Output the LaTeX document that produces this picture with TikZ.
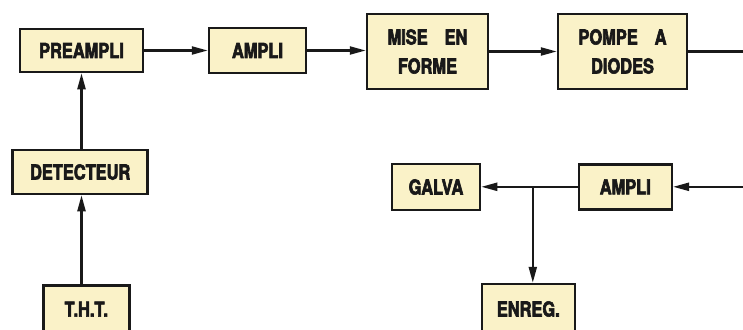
\documentclass[tikz,border=0pt]{standalone}
\usepackage{fontspec}
\newfontfamily\bxfont{texgyreheros-bold.otf}[FakeStretch=0.80, FakeBold=3]
\usetikzlibrary{arrows.meta}
\definecolor{boxfill}{RGB}{250,242,200}
\definecolor{ink}{RGB}{25,25,25}
\begin{document}
\begin{tikzpicture}[x=1pt,y=-1pt,
  blk/.style={draw=ink, line width=2.5pt, fill=boxfill, inner sep=0pt,
    font=\bxfont\fontsize{20.5}{29}\selectfont, text=ink, align=center},
  arr/.style={draw=ink, line width=2.2pt, -{Triangle[length=16pt,width=8pt]}},
  ln/.style={draw=ink, line width=2.2pt}]
\useasboundingbox[fill=white] (0,0) rectangle (743,329);
\node[blk, minimum width=123pt, minimum height=43pt] (pre) at (81.5,50.5) {PREAMPLI};
\node[blk, minimum width=97pt, minimum height=45pt] (amp1) at (257.5,50.5) {AMPLI};
\node[blk, minimum width=121pt, minimum height=75pt] (mise) at (427.5,51.5) {MISE\hspace{17pt}EN\\FORME};
\node[blk, minimum width=129pt, minimum height=75pt] (pompe) at (622.5,51.5) {POMPE\hspace{17pt}A\\DIODES};
\node[blk, minimum width=135pt, minimum height=44pt] (det) at (80.2,172) {DETECTEUR};
\node[blk, minimum width=86pt, minimum height=47pt] (tht) at (86.3,309.2) {T.H.T.};
\node[blk, minimum width=88pt, minimum height=46pt] (galva) at (436,187) {GALVA};
\node[blk, minimum width=93pt, minimum height=45pt] (amp2) at (625.3,186.8) {AMPLI};
\node[blk, minimum width=93pt, minimum height=50pt] (enreg) at (528.3,309) {ENREG.};
\coordinate (rc) at (747,0);
\coordinate (j) at (532.8,186.8);
\draw[arr] (pre.east) -- (amp1.west);
\draw[arr] (amp1.east) -- (amp1.east -| mise.west);
\draw[arr] (mise.east) -- (pompe.west);
\draw[arr] (pompe.east) -- (pompe.east -| rc) |- (amp2.east);
\draw[arr] (amp2.west) -- (amp2.west -| galva.east);
\draw[arr] (j) -- (j |- enreg.north);
\draw[arr] (tht.north -| pre.south) -- (det.south -| pre.south);
\draw[arr] (det.north -| pre.south) -- (pre.south);
\end{tikzpicture}
\end{document}
